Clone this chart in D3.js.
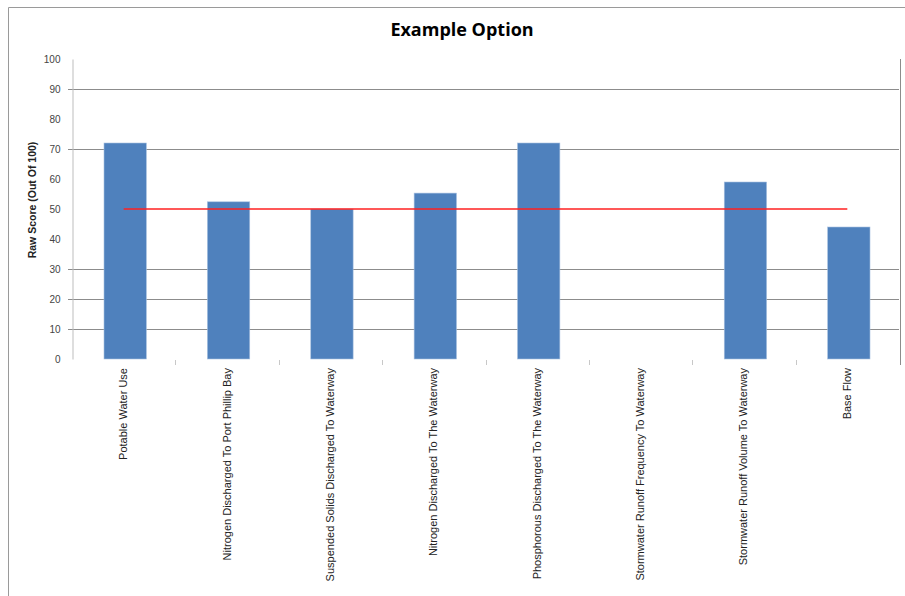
<!DOCTYPE html>
<html lang="en">
<head>
  <meta charset="UTF-8">
  <title>Example Option</title>
  <script src="https://d3js.org/d3.v7.min.js"></script>
  <style>
    html, body { width:100%; height:100%; margin:0; overflow:hidden; background:#fff; }
    svg { display:block; }
    .grid line { stroke:#8c8c8c; stroke-width:1px; }
    .tick text { font:10px "Liberation Sans", sans-serif; fill:#444; }
  </style>
</head>
<body>
  <svg id="chart" width="905" height="596"></svg>
  <script>
    const categories = [
      "Potable Water Use",
      "Nitrogen Discharged To Port Phillip Bay",
      "Suspended Solids Discharged To Waterway",
      "Nitrogen Discharged To The Waterway",
      "Phosphorous Discharged To The Waterway",
      "Stormwater Runoff Frequency To Waterway",
      "Stormwater Runoff Volume To Waterway",
      "Base Flow"
    ];
    const scores = [72, 52.4, 50, 55.3, 72, 0, 59, 44];
    const target = 50;
    const yTicks = [0, 10, 20, 30, 40, 50, 60, 70, 80, 90, 100];
    const gridValues = [10, 20, 30, 70, 90]; // the lines that show in the picture

    const svg = d3.select("#chart");
    const m = {left:72, right:899, top:59, bottom:359};

    // outer frame
    svg.append("path")
      .attr("d", `M8.5,596 V7.5 H905`)
      .attr("fill","none").attr("stroke","#9a9a9a");

    svg.append("text")
      .attr("x", 462).attr("y", 36)
      .attr("text-anchor","middle")
      .style("font", "bold 18px 'Open Sans', 'Liberation Sans', sans-serif")
      .text("Example Option");

    const x = d3.scaleBand().domain(categories).range([m.left + 1.5, m.right + 1.5]).paddingInner(0.59).paddingOuter(0.295);
    const xCat = d3.scaleBand().domain(categories).range([m.left, m.right]);
    const y = d3.scaleLinear().domain([0, 100]).range([m.bottom, m.top]);

    // gridlines
    svg.append("g").attr("class","grid")
      .selectAll("line").data(gridValues).join("line")
        .attr("x1", m.left - 4).attr("x2", m.right)
        .attr("y1", d => Math.round(y(d)) + 0.5).attr("y2", d => Math.round(y(d)) + 0.5);

    // y axis
    const yAxis = svg.append("g")
      .attr("transform", `translate(${m.left + 0.5},0)`)
      .call(d3.axisLeft(y).tickValues(yTicks).tickSize(0).tickPadding(12));
    yAxis.select(".domain").attr("stroke","#bdbdbd");

    // right border of plot
    svg.append("line")
      .attr("x1", m.right + 1.5).attr("x2", m.right + 1.5)
      .attr("y1", m.top).attr("y2", m.bottom + 6)
      .attr("stroke","#8c8c8c");

    svg.append("text")
      .attr("transform", `translate(36,200) rotate(-90)`)
      .attr("text-anchor","middle")
      .style("font", "bold 10.5px 'Liberation Sans', sans-serif")
      .attr("fill","#222")
      .text("Raw Score (Out Of 100)");

    // category separator ticks
    svg.append("g")
      .selectAll("line").data(categories.slice(1)).join("line")
        .attr("x1", d => Math.round(xCat(d)) + 0.5).attr("x2", d => Math.round(xCat(d)) + 0.5)
        .attr("y1", m.bottom + 1).attr("y2", m.bottom + 6)
        .attr("stroke","#c8c8c8");

    // bars
    svg.append("g")
      .selectAll("rect").data(categories).join("rect")
        .attr("x", d => x(d))
        .attr("width", x.bandwidth())
        .attr("y", (d, i) => y(scores[i]))
        .attr("height", (d, i) => y(0) - y(scores[i]))
        .attr("fill", "#4f81bd")
        .attr("stroke", "#a9c1e0").attr("stroke-width", 0.6);

    // target line
    const c0 = xCat(categories[0]) + xCat.bandwidth() / 2;
    const c1 = xCat(categories[categories.length - 1]) + xCat.bandwidth() / 2;
    svg.append("line")
      .attr("x1", c0).attr("x2", c1)
      .attr("y1", y(target)).attr("y2", y(target))
      .attr("stroke", "#ff2020").attr("stroke-width", 1.3);

    // category labels
    svg.append("g")
      .selectAll("text").data(categories).join("text")
        .attr("transform", d => `translate(${xCat(d) + xCat.bandwidth() / 2 + 3.5},${m.bottom + 9}) rotate(-90)`)
        .attr("text-anchor","end")
        .style("font", "11px 'Liberation Sans', sans-serif")
        .attr("fill","#222")
        .text(d => d);
  </script>
</body>
</html>
